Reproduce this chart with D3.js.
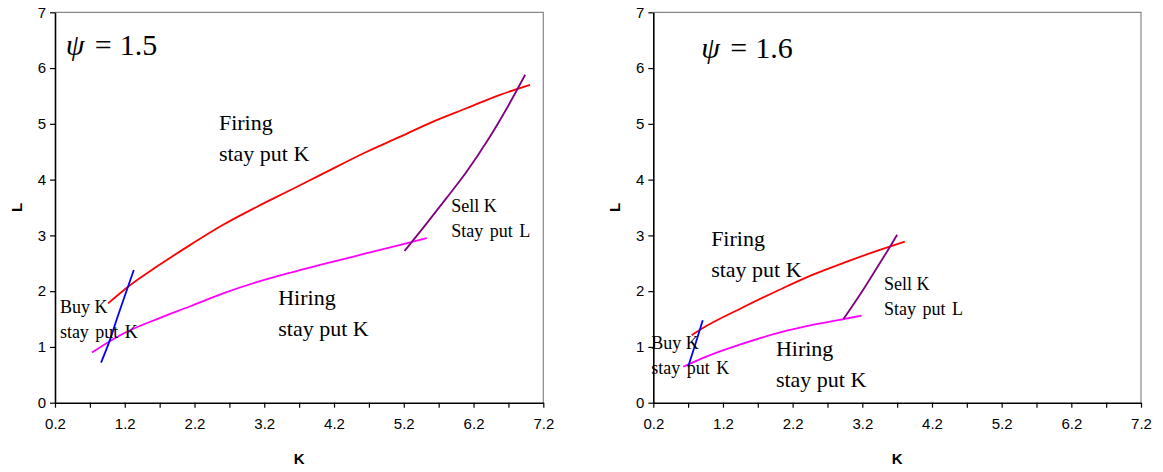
<!DOCTYPE html>
<html><head><meta charset="utf-8">
<script src="https://cdn.jsdelivr.net/npm/d3@7"></script>
<style>body{margin:0;background:#fff}</style>
</head><body>
<svg id="c" width="1163" height="472"></svg>
<script>
// ---- tick labels ----
const yTicks = [0, 1, 2, 3, 4, 5, 6, 7];
const xTicks = [0.2, 0.7, 1.2, 1.7, 2.2, 2.7, 3.2, 3.7, 4.2, 4.7, 5.2, 5.7, 6.2, 6.7, 7.2];
const xLabels = [0.2, 1.2, 2.2, 3.2, 4.2, 5.2, 6.2, 7.2];

// ---- psi = 1.5 ----
const firingK_a = [0.96, 1.28, 1.66, 2.14, 2.61, 3.09, 3.57, 4.0, 4.67, 5.15, 5.62, 6.10, 6.58, 7.01];
const firingL_a = [1.78, 2.11, 2.44, 2.83, 3.19, 3.51, 3.81, 4.08, 4.50, 4.77, 5.04, 5.28, 5.52, 5.70];
const hiringK_a = [0.73, 1.18, 1.66, 2.14, 2.61, 3.09, 3.57, 4.0, 4.67, 5.15, 5.53];
const hiringL_a = [0.90, 1.24, 1.50, 1.73, 1.96, 2.16, 2.33, 2.47, 2.68, 2.83, 2.95];
const buyK_a = [0.86, 0.98, 1.10, 1.21, 1.33];
const buyL_a = [0.72, 1.10, 1.55, 1.95, 2.38];
const sellK_a = [5.21, 5.50, 5.80, 6.10, 6.40, 6.70, 6.94];
const sellL_a = [2.72, 3.17, 3.65, 4.14, 4.70, 5.33, 5.88];

// ---- psi = 1.6 ----
const firingK_b = [0.75, 0.90, 1.44, 2.02, 2.50, 2.98, 3.45, 3.81];
const firingL_b = [1.21, 1.33, 1.68, 2.03, 2.30, 2.53, 2.74, 2.89];
const hiringK_b = [0.63, 0.97, 1.44, 2.02, 2.50, 2.93, 3.19];
const hiringL_b = [0.645, 0.83, 1.04, 1.26, 1.40, 1.50, 1.56];
const buyK_b = [0.70, 0.80, 0.91];
const buyL_b = [0.645, 1.035, 1.48];
const sellK_b = [2.93, 3.21, 3.45, 3.60, 3.70];
const sellL_b = [1.50, 2.02, 2.50, 2.80, 3.01];

const psiValues = ["1.5", "1.6"];

// annotation anchors (data coordinates K, L) per panel
const notes_a = [
  {t1: "Firing", t2: "stay put K", k: 2.55, l: 4.89, big: true},
  {t1: "Hiring", t2: "stay put K", k: 3.40, l: 1.75, big: true},
  {t1: "Buy K", t2: "stay put K", k: 0.27, l: 1.61, big: false},
  {t1: "Sell K", t2: "Stay put L", k: 5.88, l: 3.42, big: false}
];
const notes_b = [
  {t1: "Firing", t2: "stay put K", k: 1.03, l: 2.81, big: true},
  {t1: "Hiring", t2: "stay put K", k: 1.96, l: 0.84, big: true},
  {t1: "Buy K", t2: "stay put K", k: 0.17, l: 0.96, big: false},
  {t1: "Sell K", t2: "Stay put L", k: 3.51, l: 2.02, big: false}
];
const psiPos = [{k: 0.355, l: 6.23}, {k: 0.89, l: 6.18}];

const svg = d3.select("#c");
const sans = "'Liberation Sans', Arial, sans-serif";
const serif = "'Liberation Serif', 'Times New Roman', serif";

const panels = [
  {x0: 55, x1: 543.3, series: [
    [firingK_a, firingL_a, "#ff0000"], [hiringK_a, hiringL_a, "#ff00ff"],
    [buyK_a, buyL_a, "#0000ff"], [sellK_a, sellL_a, "#800080"]], notes: notes_a},
  {x0: 653.3, x1: 1141, series: [
    [firingK_b, firingL_b, "#ff0000"], [hiringK_b, hiringL_b, "#ff00ff"],
    [buyK_b, buyL_b, "#0000ff"], [sellK_b, sellL_b, "#800080"]], notes: notes_b}
];

panels.forEach((p, i) => {
  const x = d3.scaleLinear().domain([0.2, 7.2]).range([p.x0, p.x1]);
  const y = d3.scaleLinear().domain([0, 7]).range([402.7, 12.3]);
  const g = svg.append("g");

  // grey frame (top & right)
  g.append("path")
    .attr("d", `M${x(0.2)},${y(7)}H${x(7.2)}V${y(0)}`)
    .attr("fill", "none").attr("stroke", "#888").attr("stroke-width", 1.2);

  const ya = g.append("g").attr("transform", `translate(${x(0.2)},0)`)
    .call(d3.axisLeft(y).tickValues(yTicks).tickSize(5).tickSizeOuter(0).tickFormat(d3.format("d")));
  const xa = g.append("g").attr("transform", `translate(0,${y(0)})`)
    .call(d3.axisBottom(x).tickValues(xTicks).tickSize(5).tickSizeOuter(0)
      .tickFormat(d => xLabels.some(v => Math.abs(v - d) < 1e-9) ? d3.format(".1f")(d) : ""));
  [ya, xa].forEach(a => {
    a.select(".domain").attr("stroke", "#000").attr("stroke-width", 1.6);
    a.selectAll(".tick line").attr("stroke", "#000").attr("stroke-width", 1.2);
    a.selectAll(".tick text").attr("font-family", sans).attr("font-size", 15).attr("fill", "#000");
  });
  ya.selectAll(".tick text").attr("x", -9);
  xa.selectAll(".tick text").attr("y", 16);

  // axis titles
  g.append("text").attr("transform", `translate(${x(0.2) - 33},${y(3.5)}) rotate(-90)`)
    .attr("text-anchor", "middle").attr("font-family", sans).attr("font-weight", "bold")
    .attr("font-size", 15).text("L");
  g.append("text").attr("x", x(3.7)).attr("y", y(0) + 61)
    .attr("text-anchor", "middle").attr("font-family", sans).attr("font-weight", "bold")
    .attr("font-size", 15).text("K");

  // curves
  const line = d3.line().x(d => x(d[0])).y(d => y(d[1])).curve(d3.curveMonotoneX);
  p.series.forEach(([ks, ls, col]) => {
    g.append("path").datum(ks.map((k, j) => [k, ls[j]]))
      .attr("d", line).attr("fill", "none").attr("stroke", col).attr("stroke-width", 1.8);
  });

  // annotations
  p.notes.forEach(n => {
    const fs = n.big ? 22 : 18;
    const dy = n.big ? 31 : 25;
    const t = g.append("text").attr("font-family", serif).attr("font-size", fs).attr("fill", "#000");
    t.append("tspan").attr("x", x(n.k)).attr("y", y(n.l)).text(n.t1);
    t.append("tspan").attr("x", x(n.k)).attr("y", y(n.l) + dy)
      .attr("word-spacing", n.big ? 0 : 2).text(n.t2);
  });

  // psi label
  const pp = psiPos[i];
  const px = x(pp.k), py = y(pp.l);
  const pg = g.append("g").attr("font-family", serif).attr("font-size", 30).attr("fill", "#000");
  pg.append("text").attr("x", px).attr("y", py).attr("font-style", "italic").text("\u03c8");
  pg.append("text").attr("x", px + 29).attr("y", py).text("=");
  pg.append("text").attr("x", px + 54).attr("y", py).text(psiValues[i]);
});
</script>
</body></html>
